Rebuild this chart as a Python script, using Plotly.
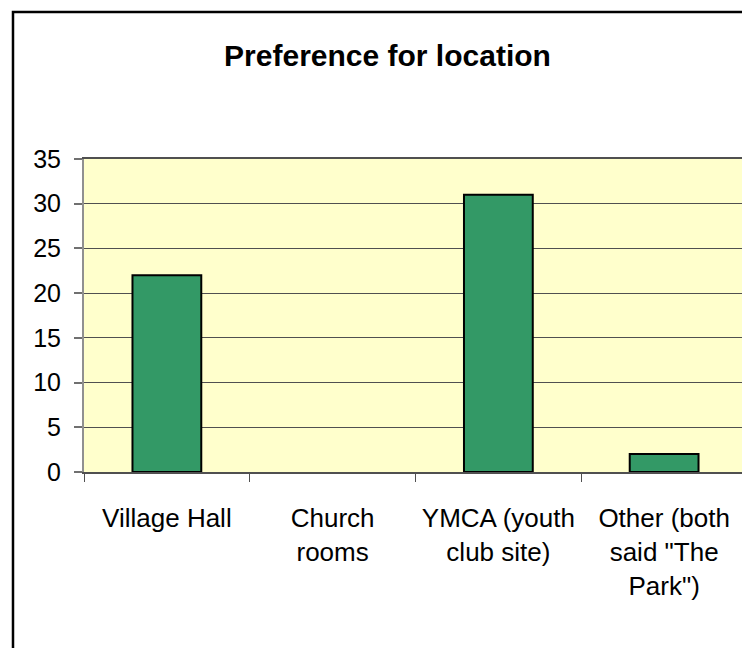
#!/usr/bin/env python3
"""
Preference for location - bar chart
"""

import plotly.graph_objects as go

# data
categories = [
    'Village Hall',
    'Church<br>rooms',
    'YMCA (youth<br>club site)',
    'Other (both<br>said "The<br>Park")',
]
responses = [22, 0, 31, 2]
y_ticks = [0, 5, 10, 15, 20, 25, 30, 35]

FONT = 'Liberation Sans, Arial, sans-serif'


def create_chart():
    """Build the bar chart"""
    fig = go.Figure()

    # no outline on empty bars (Excel draws nothing there)
    outline = [2 if v > 0 else 0 for v in responses]

    fig.add_trace(
        go.Bar(
            x=categories,
            y=responses,
            marker=dict(
                color='#339966',
                line=dict(color='black', width=outline)
            ),
            hovertemplate='%{x}: %{y}<extra></extra>'
        )
    )

    fig.update_layout(
        title={
            'text': '<b>Preference for location</b>',
            'x': 0.506,
            'xanchor': 'center',
            'y': 0.926,
            'yanchor': 'middle',
            'font': {'size': 30, 'color': 'black', 'family': FONT}
        },
        width=750,
        height=648,
        # page has an 8px body margin, so shift everything up/left by 8
        margin=dict(l=76, r=11, t=151, b=184),
        paper_bgcolor='white',
        plot_bgcolor='#FFFFCC',
        font=dict(family=FONT, size=25, color='black'),
        bargap=0.585,
        showlegend=False
    )

    fig.update_xaxes(
        automargin=False,
        tickangle=0,
        tickfont=dict(size=26),
        showline=True,
        linecolor='#505050',
        linewidth=2,
        mirror=True,
        ticks='outside',
        tickson='boundaries',
        ticklen=8,
        tickcolor='#505050',
        tickwidth=1,
        ticklabelstandoff=22,
        showgrid=False
    )
    fig.update_yaxes(
        automargin=False,
        range=[0, 35],
        tickvals=y_ticks,
        showline=True,
        linecolor='#909090',
        linewidth=2,
        mirror=True,
        ticks='outside',
        ticklen=8,
        tickcolor='#707070',
        tickwidth=2,
        ticklabelstandoff=8,
        showgrid=True,
        gridcolor='#505050',
        gridwidth=1,
        zeroline=False
    )

    # outer chart border
    fig.add_shape(
        type='rect', xref='paper', yref='paper',
        x0=-0.1071, x1=1.05, y0=-0.7, y1=1.4696,
        line=dict(color='black', width=2.5),
        layer='below'
    )
    return fig


if __name__ == "__main__":
    fig = create_chart()
    fig.write_html("out.html")
